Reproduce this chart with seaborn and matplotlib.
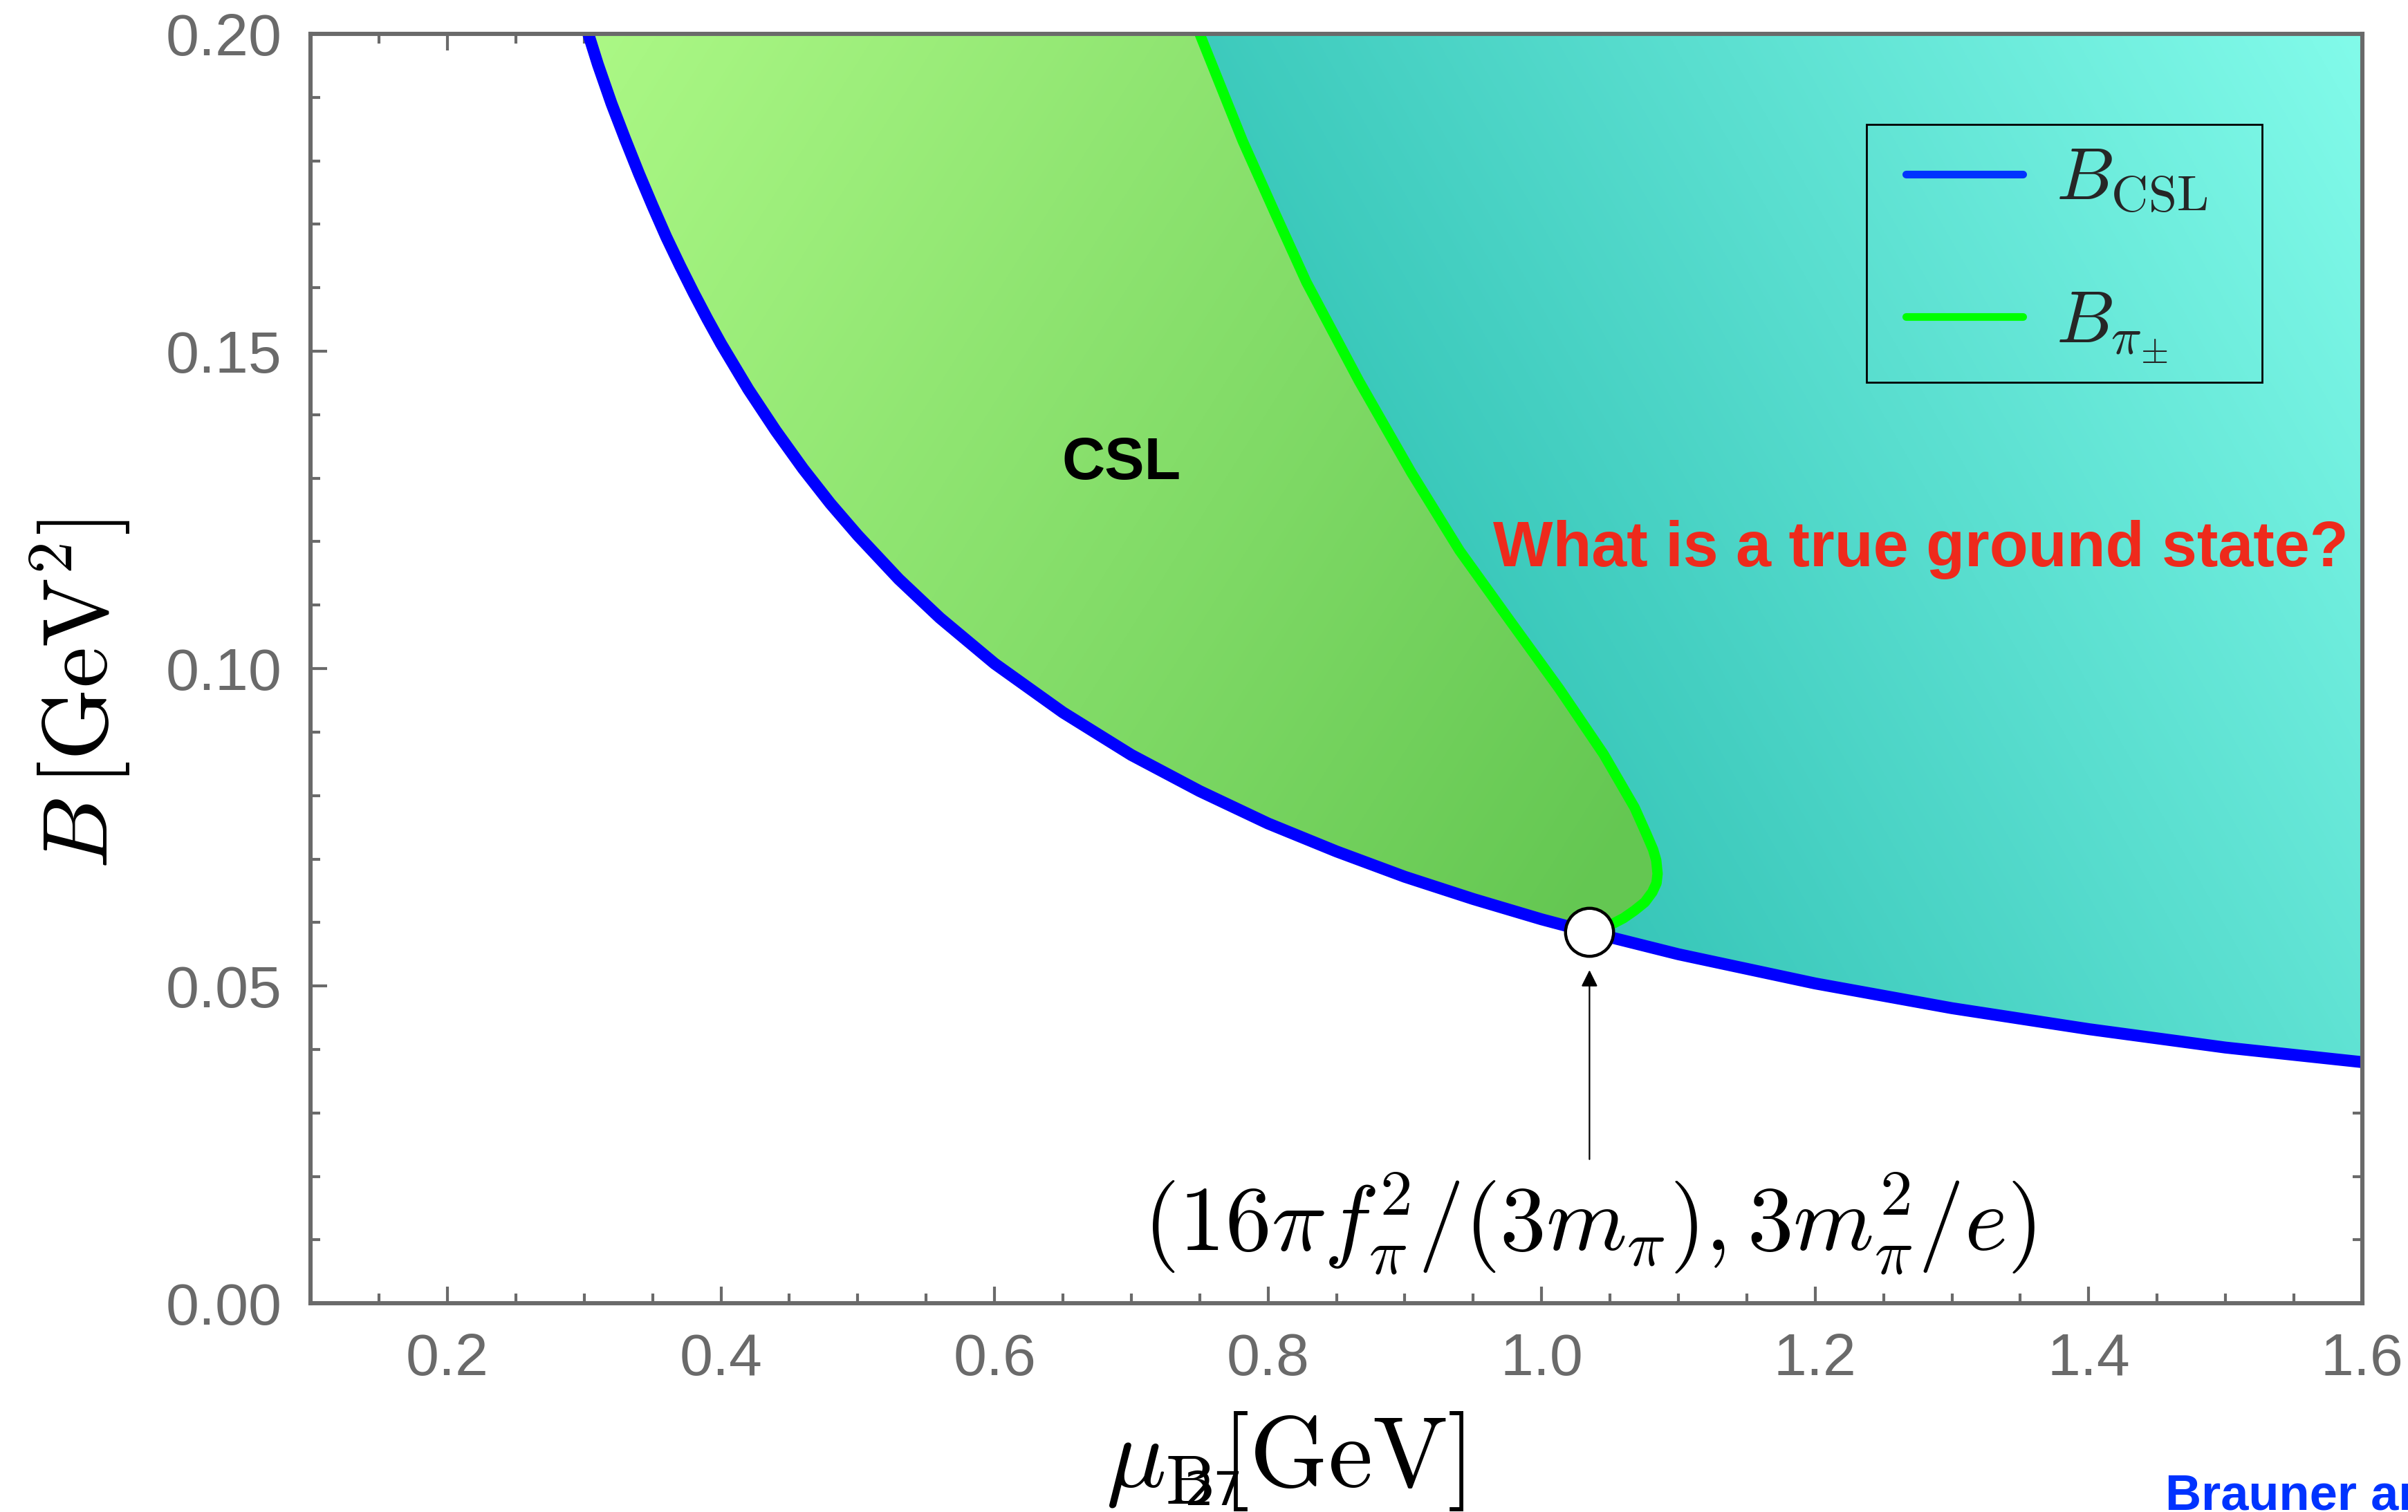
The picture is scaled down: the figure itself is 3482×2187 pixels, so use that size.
import numpy as np
import matplotlib
matplotlib.use("Agg")
import matplotlib.pyplot as plt
from matplotlib.colors import LinearSegmentedColormap
from matplotlib.patches import Rectangle
import seaborn as sns

# ---------------- data ----------------
mu_csl = [0.303, 0.31, 0.32, 0.33, 0.34, 0.35, 0.36, 0.37, 0.38, 0.39, 0.40,
          0.42, 0.44, 0.46, 0.48, 0.50, 0.53, 0.56, 0.60, 0.65, 0.70, 0.75,
          0.80, 0.85, 0.90, 0.95, 1.00, 1.035, 1.10, 1.20, 1.30, 1.40, 1.50,
          1.60]
B_csl = [0.2000, 0.1952, 0.1890, 0.1834, 0.1780, 0.1729, 0.1680, 0.1635, 0.1592,
         0.1551, 0.1512, 0.1440, 0.1375, 0.1315, 0.1260, 0.1210, 0.1141, 0.1080,
         0.1008, 0.0931, 0.0864, 0.0807, 0.0756, 0.0712, 0.0672, 0.0637, 0.0605,
         0.0585, 0.0550, 0.0504, 0.0465, 0.0432, 0.0403, 0.0380]

mu_pi = [0.750, 0.7815, 0.805, 0.828, 0.8665, 0.905, 0.940, 0.9777, 1.013,
         1.0454, 1.068, 1.0765, 1.0815, 1.0838, 1.0848, 1.0840, 1.081, 1.0755,
         1.068, 1.060, 1.052, 1.044, 1.036]
B_pi = [0.2000, 0.1831, 0.1718, 0.1609, 0.1453, 0.1308, 0.1186, 0.1073, 0.0968,
        0.0865, 0.0781, 0.0740, 0.0715, 0.0698, 0.0677, 0.0662, 0.0648, 0.0632,
        0.0619, 0.0607, 0.0598, 0.0591, 0.0585]

point_mu = [1.035]
point_B = [0.0585]

x_ticks = [0.2, 0.4, 0.6, 0.8, 1.0, 1.2, 1.4, 1.6]
x_ticklabels = ["0.2", "0.4", "0.6", "0.8", "1.0", "1.2", "1.4", "1.6"]
y_ticks = [0.00, 0.05, 0.10, 0.15, 0.20]
y_ticklabels = ["0.00", "0.05", "0.10", "0.15", "0.20"]

XMIN, XMAX, YMIN, YMAX = 0.1, 1.6, 0.0, 0.2

# ---------------- style ----------------
sns.set_style("ticks")
plt.rcParams["mathtext.fontset"] = "cm"
plt.rcParams["font.family"] = ["Liberation Sans", "DejaVu Sans"]

fig = plt.figure(figsize=(17.41, 10.935), dpi=200)
ax = fig.add_axes([0.129, 0.138, 0.852, 0.8396])

GRAY = "#6a6a6a"

# ---------------- gradient fills ----------------
mu_csl_a = np.array(mu_csl)
B_csl_a = np.array(B_csl)
mu_pi_a = np.array(mu_pi)
B_pi_a = np.array(B_pi)
mcut = point_mu[0]

left_mask = mu_csl_a <= mcut + 1e-9
right_mask = mu_csl_a >= mcut - 1e-9

csl_x = np.concatenate([mu_csl_a[left_mask], mu_pi_a[::-1]])
csl_y = np.concatenate([B_csl_a[left_mask], B_pi_a[::-1]])
teal_x = np.concatenate([mu_pi_a, mu_csl_a[right_mask], [XMAX]])
teal_y = np.concatenate([B_pi_a, B_csl_a[right_mask], [YMAX]])

csl_patch = ax.fill(csl_x, csl_y, facecolor="none", edgecolor="none")[0]
teal_patch = ax.fill(teal_x, teal_y, facecolor="none", edgecolor="none")[0]

ny, nx = 300, 600
gx = np.linspace(0, 1, nx)
gy = np.linspace(1, 0, ny)
GX, GY = np.meshgrid(gx, gy)

t_green = 0.9 * GX - 0.35 * GY
t_green = (t_green - (-0.228)) / (0.453 + 0.228)
cmap_green = LinearSegmentedColormap.from_list("g", ["#abf885", "#64c752"])
im1 = ax.imshow(np.clip(t_green, 0, 1), cmap=cmap_green, vmin=0, vmax=1,
                extent=[XMIN, XMAX, YMIN, YMAX], aspect="auto", zorder=1,
                interpolation="bilinear")
im1.set_clip_path(csl_patch)

t_teal = 1.0 * GX + 0.35 * GY
t_teal = (t_teal - 0.70) / (1.35 - 0.70)
cmap_teal = LinearSegmentedColormap.from_list("t", ["#33c3b6", "#82fbea"])
im2 = ax.imshow(np.clip(t_teal, 0, 1), cmap=cmap_teal, vmin=0, vmax=1,
                extent=[XMIN, XMAX, YMIN, YMAX], aspect="auto", zorder=1,
                interpolation="bilinear")
im2.set_clip_path(teal_patch)

# ---------------- curves ----------------
sns.lineplot(x=mu_csl, y=B_csl, ax=ax, color="#0000ff", lw=6.2, sort=False,
             estimator=None, zorder=3, label=r"$B_{\mathrm{CSL}}$")
sns.lineplot(x=mu_pi, y=B_pi, ax=ax, color="#00ff00", lw=5.4, sort=False,
             estimator=None, zorder=3, label=r"$B_{\pi_{\pm}}$")
ax.plot(point_mu, point_B, "o", ms=25, mfc="white", mec="black", mew=1.6,
        zorder=5)

# ---------------- annotations ----------------
ax.annotate("", xy=(point_mu[0], 0.0525), xytext=(point_mu[0], 0.0227),
            arrowprops=dict(arrowstyle="-|>", color="black", lw=0.8,
                            mutation_scale=18, shrinkA=0, shrinkB=0), zorder=4)
ax.text(point_mu[0], 0.0126, r"$(16\pi f_{\pi}^{2}/(3m_{\pi}),3m_{\pi}^{2}/e)$",
        ha="center", va="center", fontsize=48, color="black", zorder=6)
ax.text(0.693, 0.1323, "CSL", ha="center", va="center", fontsize=31,
        fontweight="bold", color="black", zorder=6)
ax.text(1.277, 0.1187, "What is a true ground state?", ha="center", va="center",
        fontsize=33, fontweight="bold", color="#ee2a1c", zorder=6)

# ---------------- axes ----------------
ax.set_xlim(XMIN, XMAX)
ax.set_ylim(YMIN, YMAX)
ax.set_xticks(x_ticks)
ax.set_xticklabels(x_ticklabels)
ax.set_yticks(y_ticks)
ax.set_yticklabels(y_ticklabels)
ax.set_xticks(np.arange(0.15, 1.6001, 0.05), minor=True)
ax.set_yticks(np.arange(0.0, 0.2001, 0.01), minor=True)
ax.tick_params(which="both", direction="in", top=True, right=True,
               color=GRAY, labelcolor=GRAY)
ax.tick_params(which="major", length=8.5, width=1.5, labelsize=31, pad=15)
ax.tick_params(which="minor", length=5, width=1.5)
for s in ax.spines.values():
    s.set_color(GRAY)
    s.set_linewidth(2.2)
    s.set_zorder(7)

ax.set_xlabel(r"$\mu_{\mathrm{B}}[\mathrm{GeV}]$", fontsize=52, color="black")
ax.xaxis.set_label_coords(0.475, -0.084)
ax.set_ylabel(r"$B\,[\mathrm{GeV}^{2}]$", fontsize=48, color="black")
ax.yaxis.set_label_coords(-0.087, 0.48)

# legend (entries) + its frame drawn as a rectangle in axes coordinates
leg = ax.legend(loc="upper left", bbox_to_anchor=(0.767, 0.9287), fontsize=38,
                frameon=False, handlelength=1.6, handletextpad=0.45,
                labelspacing=1.02, borderpad=0.3, borderaxespad=0)
leg_colors = ["#0033ff", "#00ff00"]
for h, c in zip(leg.get_lines(), leg_colors):
    h.set_color(c)
    h.set_linewidth(4)
ax.add_patch(Rectangle((0.7582, 0.7255), 0.9513 - 0.7582, 0.9287 - 0.7255,
                       transform=ax.transAxes, facecolor="none",
                       edgecolor="black", lw=1.0, zorder=6))

# slide artefacts
fig.text(790 / 1568, 1 - 972 / 985, "27", fontsize=24, color="black",
         ha="center", va="center", family="DejaVu Sans")
fig.text(1410 / 1568, 1 - 975 / 985, "Brauner and Yamamoto", fontsize=26,
         fontweight="bold", color="#0033ff", ha="left", va="center")

fig.savefig("out.png", dpi=200)
